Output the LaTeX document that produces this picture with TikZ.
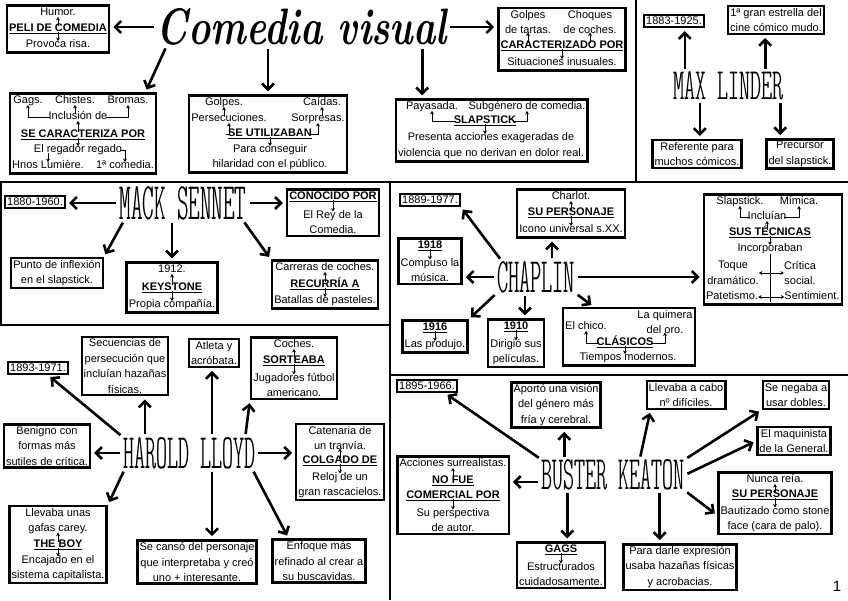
\documentclass[tikz,border=0pt]{standalone}
\usepackage{fontspec}
\usepackage{graphicx}
\usetikzlibrary{arrows.meta,fit}
\newfontfamily\boxfont{Liberation Sans}

\begin{document}
\begin{tikzpicture}[x=1pt,y=-1pt,
  every node/.style={inner sep=0pt},
  ln/.style={font=\boxfont\fontsize{11}{15.5}\selectfont, text height=8pt, text depth=2.5pt},
  hd/.style={ln, font=\boxfont\bfseries\fontsize{11}{15.5}\selectfont},
  ml/.style={font=\boxfont\fontsize{11}{15.5}\selectfont, align=center},
  box/.style={draw, line width=2.4pt, inner sep=2pt},
  frame/.style={box, fit=#1},
  title/.style={font=\fontfamily{lmtt}\fontseries{lc}\fontsize{44}{44}\selectfont},
  big/.style={-{Straight Barb[length=6pt,width=12pt]}, line width=2.6pt, shorten <=3pt, shorten >=3pt},
  sm/.style={-{Stealth[length=3.5pt,width=4pt]}, line width=1pt, shorten <=-2pt, shorten >=-1.5pt},
  smboth/.style={{Stealth[length=3.5pt,width=4pt]}-{Stealth[length=3.5pt,width=4pt]}, line width=1pt},
  divider/.style={line width=2.6pt}]
  \useasboundingbox (0,0) rectangle (848,600);
  \draw[divider] (636,0) -- (636,182);
  \draw[divider] (0,182) -- (848,182);
  \draw[divider] (390,182) -- (390,600);
  \draw[divider] (0,325) -- (390,325);
  \draw[divider] (390,375) -- (848,375);
  \draw[line width=1.2pt] (1,182) -- (1,325);

  \node (cv) at (302,27) {\fontsize{46}{46}\selectfont\resizebox{290pt}{36pt}{\bfseries\itshape Comedia visual}};

  \node[ln] (humor) at (58,13) {Humor.};
  \node[hd] (peli) at (58,29) {\underline{PELI DE COMEDIA}};
  \node[ln] (risa) at (58,45) {Provoca risa.};
  \node[frame={(humor)(peli)(risa)}] (pelibox) {};
  \draw[sm] (peli.north) -- (humor.south);
  \draw[sm] (peli.south) -- (risa.north);

  \node[ln] (gags) at (28,101) {Gags.};
  \node[ln] (chistes) at (75,101) {Chistes.};
  \node[ln] (bromas) at (128,101) {Bromas.};
  \node[ln] (inclus) at (78,117) {Inclusión de};
  \node[hd] (secar) at (83,135) {\underline{SE CARACTERIZA POR}};
  \node[ln] (regador) at (78,150) {El regador regado};
  \node[ln] (lumiere) at (48,166) {Hnos Lumière.};
  \node[ln] (comedia1) at (125,166) {1ª comedia.};
  \node[frame={(gags)(bromas)(secar)(lumiere)(comedia1)}] (secarbox) {};
  \draw[sm] (inclus.west) -| (gags.south);
  \draw[sm] (inclus.east) -| (bromas.south);
  \draw[sm] (inclus.north -| chistes.south) -- (chistes.south);
  \draw[sm] (secar.north -| inclus.south) -- (inclus.south);
  \draw[sm] (secar.south -| regador.north) -- (regador.north);
  \draw[sm] (regador.east) -| (comedia1.north);
  \draw[sm] (regador.south -| lumiere.north) -- (lumiere.north);

  \node[ln] (golpes) at (224,103) {Golpes.};
  \node[ln] (caidas) at (322,103) {Caídas.};
  \node[ln] (persec) at (229,119) {Persecuciones.};
  \node[ln] (sorpr) at (318,119) {Sorpresas.};
  \node[hd] (seutil) at (270,134) {\underline{SE UTILIZABAN}};
  \node[ln] (conseg) at (270,150) {Para conseguir};
  \node[ln] (hilar) at (270,165) {hilaridad con el público.};
  \node[frame={(golpes)(caidas)(persec)(sorpr)(hilar)}] (utilbox) {};
  \draw[sm] (persec.north -| golpes.south) -- (golpes.south);
  \draw[sm] (sorpr.north -| caidas.south) -- (caidas.south);
  \draw[sm] (seutil.west) -| (persec.south);
  \draw[sm] (seutil.east) -| (sorpr.south);
  \draw[sm] (seutil.south) -- (conseg.north);

  \node[ml] (tartas) at (528,22) {Golpes\\de tartas.};
  \node[ml] (coches) at (590,22) {Choques\\de coches.};
  \node[hd] (caract) at (562,46) {\underline{CARACTERIZADO POR}};
  \node[ln] (inusual) at (562,63) {Situaciones inusuales.};
  \node[frame={(tartas)(coches)(caract)(inusual)}] (cpbox) {};
  \draw[sm] (caract.north -| tartas.south) -- (tartas.south);
  \draw[sm] (caract.north -| coches.south) -- (coches.south);
  \draw[sm] (caract.south) -- (inusual.north);

  \node[ln] (payas) at (432,107) {Payasada.};
  \node[ln] (subgen) at (527,107) {Subgénero de comedia.};
  \node[hd] (slap) at (485,121) {\underline{SLAPSTICK}};
  \node[ln] (presenta) at (491,138) {Presenta acciones exageradas de};
  \node[ln] (violencia) at (491,154) {violencia que no derivan en dolor real.};
  \node[frame={(payas)(subgen)(presenta)(violencia)}] (slapbox) {};
  \draw[sm] (slap.west) -| (payas.south);
  \draw[sm] (slap.east) -| (subgen.south);
  \draw[sm] (slap.south) -- (slap.south |- presenta.north);

  \draw[big] (cv.west) -- (cv.west -| pelibox.east);
  \draw[big] ([xshift=10pt]cv.south west) -- ([xshift=-12pt]secarbox.north east);
  \draw[big] (cv.south -| utilbox.north) -- (utilbox.north);
  \draw[big] (cv.east) -- (cv.east -| cpbox.west);
  \draw[big] ([xshift=-25pt]cv.south east) -- ([xshift=-25pt]cv.south east |- slapbox.north);

  \node[title] (linder) at (728,86) {\resizebox{110pt}{28pt}{MAX LINDER}};
  \node[box, ml] (ml1883) at (674,21) {1883-1925.};
  \node[box, ml] (mlstar) at (776,20) {1ª gran estrella del\\cine cómico mudo.};
  \node[box, ml] (mlref) at (697,154) {Referente para\\muchos cómicos.};
  \node[box, ml] (mlprec) at (800,154) {Precursor\\del slapstick.};
  \draw[big] ([xshift=12pt]linder.north west) -- ([xshift=12pt]linder.north west |- ml1883.south);
  \draw[big] ([xshift=-18pt]linder.north east) -- ([xshift=-18pt]linder.north east |- mlstar.south);
  \draw[big] ([xshift=27pt]linder.south west) -- ([xshift=27pt]linder.south west |- mlref.north);
  \draw[big] ([xshift=-3pt]linder.south east) -- ([xshift=-3pt]linder.south east |- mlprec.north);

  \node[title] (sennet) at (183,203) {\resizebox{127pt}{33pt}{MACK SENNET}};
  \node[box, ml] (ms1880) at (35,202) {1880-1960.};
  \node[hd] (conoc) at (333,197) {\underline{CONOCIDO POR}};
  \node[ml] (rey) at (333,222) {El Rey de la\\Comedia.};
  \node[frame={(conoc)(rey)}] (conocbox) {};
  \draw[sm] (conoc.south) -- (rey.north);
  \node[box, ml] (inflex) at (57,273) {Punto de inflexión\\en el slapstick.};
  \node[ln] (ks1912) at (172,270) {1912.};
  \node[hd] (keyst) at (172,288) {\underline{KEYSTONE}};
  \node[ln] (propia) at (172,305) {Propia compañía.};
  \node[frame={(ks1912)(keyst)(propia)}] (ksbox) {};
  \draw[sm] (keyst.north) -- (ks1912.south);
  \draw[sm] (keyst.south) -- (propia.north);
  \node[ln] (carreras) at (325,268) {Carreras de coches.};
  \node[hd] (recur) at (325,285) {\underline{RECURRÍA A}};
  \node[ln] (batallas) at (325,301) {Batallas de pasteles.};
  \node[frame={(carreras)(recur)(batallas)}] (recbox) {};
  \draw[sm] (recur.north) -- (carreras.south);
  \draw[sm] (recur.south) -- (batallas.north);
  \draw[big] (sennet.west) -- (sennet.west -| ms1880.east);
  \draw[big] (sennet.east) -- (sennet.east -| conocbox.west);
  \draw[big] ([xshift=5pt]sennet.south west) -- (inflex.north east);
  \draw[big] (sennet.south -| ksbox.north) -- (ksbox.north);
  \draw[big] ([xshift=-4pt]sennet.south east) -- (recbox.north west);

  \node[title] (chaplin) at (536,277) {\resizebox{78pt}{31pt}{CHAPLIN}};
  \node[box, ml] (ch1889) at (430,200) {1889-1977.};
  \node[ln] (charlot) at (571,197) {Charlot.};
  \node[hd] (supers) at (571,213) {\underline{SU PERSONAJE}};
  \node[ln] (icono) at (571,230) {Icono universal s.XX.};
  \node[frame={(charlot)(supers)(icono)}] (chpbox) {};
  \draw[sm] (supers.north) -- (charlot.south);
  \draw[sm] (supers.south) -- (icono.north);
  \node[hd] (ch1918) at (430,246) {\underline{1918}};
  \node[ml] (compuso) at (430,270) {Compuso la\\música.};
  \node[frame={(ch1918)(compuso)}] (b1918) {};
  \draw[sm] (ch1918.south) -- (compuso.north);
  \node[hd] (ch1916) at (435,328) {\underline{1916}};
  \node[ln] (produjo) at (435,345) {Las produjo.};
  \node[frame={(ch1916)(produjo)}] (b1916) {};
  \draw[sm] (ch1916.south) -- (produjo.north);
  \node[hd] (ch1910) at (516,327) {\underline{1910}};
  \node[ml] (dirigio) at (516,352) {Dirigió sus\\películas.};
  \node[frame={(ch1910)(dirigio)}] (b1910) {};
  \draw[sm] (ch1910.south) -- (dirigio.north);
  \node[ml] (quimera) at (665,322) {La quimera\\del oro.};
  \node[ln] (chico) at (586,327) {El chico.};
  \node[hd] (clasic) at (625,343) {\underline{CLÁSICOS}};
  \node[ln] (tiempos) at (628,358) {Tiempos modernos.};
  \node[frame={(quimera)(chico)(clasic)(tiempos)}] (clasbox) {};
  \draw[sm] (clasic.west) -| (chico.south);
  \draw[sm] (clasic.east) -| (quimera.south);
  \draw[sm] (clasic.south) -- (clasic.south |- tiempos.north);
  \node[ln] (slapst) at (740,202) {Slapstick.};
  \node[ln] (mimica) at (799,202) {Mímica.};
  \node[ln] (incluian) at (767,217) {Incluían};
  \node[hd] (sustec) at (770,233) {\underline{SUS TÉCNICAS}};
  \node[ln] (incorp) at (770,249) {Incorporaban};
  \node[ml] (toque) at (733,273) {Toque\\dramático.};
  \node[ml] (critica) at (800,273) {Crítica\\social.};
  \node[ln] (patet) at (732,297) {Patetismo.};
  \node[ln] (sentim) at (812,297) {Sentimient.};
  \node[frame={(slapst)(mimica)(sustec)(patet)(sentim)}] (techbox) {};
  \draw[sm] (incluian.west) -| (slapst.south);
  \draw[sm] (incluian.east) -| (mimica.south);
  \draw[sm] (sustec.north -| incluian.south) -- (incluian.south);
  \draw[sm] (sustec.south) -- (incorp.north);
  \draw[line width=1pt] (incorp.south) -- (incorp.south |- sentim.south);
  \draw[smboth] (toque.east) -- (critica.west);
  \draw[smboth] (patet.east) -- (sentim.west);
  \draw[big] ([xshift=5pt]chaplin.north west) -- (ch1889.south east);
  \draw[big] ([xshift=16pt]chaplin.north) -- ([xshift=16pt]chaplin.north |- chpbox.south);
  \draw[big] (chaplin.west) -- (chaplin.west -| b1918.east);
  \draw[big] (chaplin.east) -- (chaplin.east -| techbox.west);
  \draw[big] (chaplin.south west) -- (b1916.north east);
  \draw[big] ([xshift=-11pt]chaplin.south) -- ([xshift=-11pt]chaplin.south |- b1910.north);
  \draw[big] (chaplin.south east) -- ([xshift=32pt]clasbox.north west);

  \node[title] (lloyd) at (189,453) {\resizebox{132pt}{31pt}{HAROLD LLOYD}};
  \node[box, ml] (hl1893) at (38,368) {1893-1971.};
  \node[box, ml] (secuen) at (125,366) {Secuencias de\\persecución que\\incluían hazañas\\físicas.};
  \node[box, ml] (atleta) at (214,353) {Atleta y\\acróbata.};
  \node[ln] (hlcoches) at (294,345) {Coches.};
  \node[hd] (sortea) at (294,361) {\underline{SORTEABA}};
  \node[ml] (jugad) at (294,385) {Jugadores fútbol\\americano.};
  \node[frame={(hlcoches)(sortea)(jugad)}] (sortbox) {};
  \draw[sm] (sortea.north) -- (hlcoches.south);
  \draw[sm] (sortea.south) -- (jugad.north);
  \node[box, ml] (benigno) at (47,446) {Benigno con\\formas más\\sutiles de crítica.};
  \node[ml] (catenaria) at (340,438) {Catenaria de\\un tranvía.};
  \node[hd] (colgado) at (340,461) {\underline{COLGADO DE}};
  \node[ml] (reloj) at (340,485) {Reloj de un\\gran rascacielos.};
  \node[frame={(catenaria)(colgado)(reloj)}] (colgbox) {};
  \draw[sm] (colgado.north) -- (catenaria.south);
  \draw[sm] (colgado.south) -- (reloj.north);
  \node[ml] (llevaba) at (58,521) {Llevaba unas\\gafas carey.};
  \node[hd] (theboy) at (58,545) {\underline{THE BOY}};
  \node[ml] (encajado) at (58,568) {Encajado en el\\sistema capitalista.};
  \node[frame={(llevaba)(theboy)(encajado)}] (boybox) {};
  \draw[sm] (theboy.north) -- (llevaba.south);
  \draw[sm] (theboy.south) -- (encajado.north);
  \node[box, ml] (secanso) at (197,562) {Se cansó del personaje\\que interpretaba y creó\\uno + interesante.};
  \node[box, ml] (enfoque) at (319,561) {Enfoque más\\refinado al crear a\\su buscavidas.};
  \draw[big] (lloyd.north west) -- ([xshift=10pt]hl1893.south);
  \draw[big] ([xshift=22pt]lloyd.north west) -- ([xshift=22pt]lloyd.north west |- secuen.south);
  \draw[big] ([xshift=23pt]lloyd.north) -- ([xshift=23pt]lloyd.north |- atleta.south);
  \draw[big] ([xshift=-10pt]lloyd.north east) -- (sortbox.south west);
  \draw[big] (lloyd.west) -- (lloyd.west -| benigno.east);
  \draw[big] (lloyd.east) -- (lloyd.east -| colgbox.west);
  \draw[big] ([xshift=2pt]lloyd.south west) -- (boybox.north east);
  \draw[big] ([xshift=23pt]lloyd.south) -- ([xshift=23pt]lloyd.south |- secanso.north);
  \draw[big] ([xshift=-3pt]lloyd.south east) -- ([xshift=17pt]enfoque.north west);

  \node[title] (keaton) at (613,475) {\resizebox{143pt}{30pt}{BUSTER KEATON}};
  \node[box, ml] (bk1895) at (427,386) {1895-1966.};
  \node[box, ml] (aporto) at (556,405) {Aportó una visión\\del género más\\fría y cerebral.};
  \node[ln] (surreal) at (453,464) {Acciones surrealistas.};
  \node[hd] (nofue) at (453,481) {\underline{NO FUE}};
  \node[hd] (comerc) at (453,496) {\underline{COMERCIAL POR}};
  \node[ml] (perspec) at (453,520) {Su perspectiva\\de autor.};
  \node[frame={(surreal)(nofue)(comerc)(perspec)}] (nofuebox) {};
  \draw[sm] (nofue.north) -- (surreal.south);
  \draw[sm] (comerc.south) -- (perspec.north);
  \node[hd] (gagsh) at (561,550) {\underline{GAGS}};
  \node[ml] (estruct) at (561,574) {Estructurados\\cuidadosamente.};
  \node[frame={(gagsh)(estruct)}] (gagsbox) {};
  \draw[sm] (gagsh.south) -- (estruct.north);
  \node[box, ml] (cabo) at (686,395) {Llevaba a cabo\\nº difíciles.};
  \node[box, ml] (dobles) at (796,395) {Se negaba a\\usar dobles.};
  \node[box, ml] (maquin) at (794,441) {El maquinista\\de la General.};
  \node[ln] (nunca) at (775,480) {Nunca reía.};
  \node[hd] (supers2) at (775,495) {\underline{SU PERSONAJE}};
  \node[ml] (stone) at (775,519) {Bautizado como stone\\face (cara de palo).};
  \node[frame={(nunca)(supers2)(stone)}] (stonebox) {};
  \draw[sm] (supers2.north) -- (nunca.south);
  \draw[sm] (supers2.south) -- (stone.north);
  \node[box, ml] (darle) at (680,567) {Para darle expresión\\usaba hazañas físicas\\y acrobacias.};
  \draw[big] (keaton.north west) -- ([xshift=18pt]bk1895.south);
  \draw[big] ([xshift=23pt]keaton.north west) -- ([xshift=23pt]keaton.north west |- aporto.south);
  \draw[big] ([yshift=-7pt]keaton.west) -- ([yshift=-7pt]keaton.west -| nofuebox.east);
  \draw[big] ([xshift=26pt]keaton.south west) -- ([xshift=26pt]keaton.south west |- gagsbox.north);
  \draw[big] ([xshift=-45pt]keaton.north east) -- ([xshift=5pt]cabo.south west);
  \draw[big] (keaton.north east) -- (dobles.south west);
  \draw[big] (keaton.east) -- (maquin.west);
  \draw[big] (keaton.south east) -- ([yshift=-12pt]stonebox.west);
  \draw[big] ([xshift=-25pt]keaton.south east) -- ([xshift=-25pt]keaton.south east |- darle.north);

  \node[font=\boxfont\fontsize{15}{15}\selectfont] (pagenum) at (837,586) {1};
\end{tikzpicture}
\end{document}
